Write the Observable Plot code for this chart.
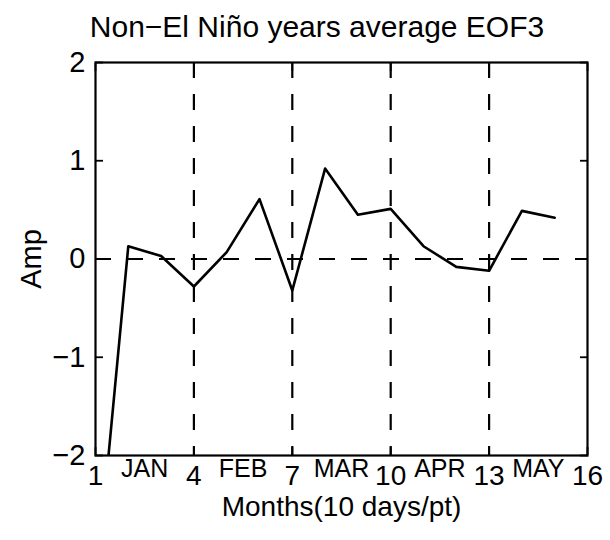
<!DOCTYPE html>
<html>
<head>
<meta charset="utf-8">
<script src="https://cdn.jsdelivr.net/npm/d3@7"></script>
<script src="https://cdn.jsdelivr.net/npm/@observablehq/plot@0.6"></script>
<style>
  html, body { margin: 0; padding: 0; background: #fff; }
  #wrap { width: 610px; font-family: "Liberation Sans", Arial, sans-serif; color: #000; }
  #title { height: 44px; box-sizing: border-box; padding-top: 9px; padding-left: 24px; line-height: 35px; font-size: 30px; text-align: center; white-space: nowrap; }
</style>
</head>
<body>
<div id="wrap">
  <div id="title">Non−El Niño years average EOF3</div>
  <div id="chart"></div>
</div>
<script>
// Data (10-day points, Jan–May)
const pts = [1, 2, 3, 4, 5, 6, 7, 8, 9, 10, 11, 12, 13, 14, 15];
const amp = [-3.4, 0.13, 0.03, -0.28, 0.07, 0.61, -0.32, 0.92, 0.45, 0.51, 0.13, -0.08, -0.12, 0.49, 0.42];
const xTicks = [1, 4, 7, 10, 13, 16];
const yTicks = [-2, -1, 0, 1, 2];
const monthBounds = [4, 7, 10, 13];
const months = ["JAN", "FEB", "MAR", "APR", "MAY"];
const monthPos = [2.5, 5.5, 8.5, 11.5, 14.5];

const data = pts.map((p, i) => ({x: p, y: amp[i]}));
const monthData = months.map((m, i) => ({label: m, x: monthPos[i]}));
const fmt = d3.format("d");

const chart = Plot.plot({
  width: 610,
  height: 496,
  marginTop: 18,
  marginBottom: 85,
  marginLeft: 95,
  marginRight: 23,
  style: {fontFamily: "'Liberation Sans', Arial, sans-serif", fontSize: "29px", color: "#000", background: "#fff"},
  x: {domain: [1, 16]},
  y: {domain: [-2, 2]},
  marks: [
    Plot.ruleY([0], {stroke: "#000", strokeWidth: 2.2, strokeDasharray: "16,16"}),
    Plot.ruleX(monthBounds, {stroke: "#000", strokeWidth: 2.2, strokeDasharray: "16,16"}),
    Plot.line(data, {x: "x", y: "y", stroke: "#000", strokeWidth: 2.6, clip: true}),
    Plot.frame({stroke: "#000", strokeWidth: 2.2}),
    Plot.axisX(xTicks, {anchor: "bottom", tickSize: -8, tickPadding: 18, tickFormat: fmt, strokeWidth: 1.8, label: null, fontSize: 28}),
    Plot.axisX(xTicks, {anchor: "top", tickSize: -8, tickFormat: () => "", strokeWidth: 1.8, label: null}),
    Plot.axisY(yTicks, {anchor: "left", tickSize: -8, tickPadding: 18, tickFormat: fmt, strokeWidth: 1.8, label: null, fontSize: 29}),
    Plot.axisY(yTicks, {anchor: "right", tickSize: -8, tickFormat: () => "", strokeWidth: 1.8, label: null}),
    Plot.text(monthData, {x: "x", text: "label", frameAnchor: "bottom", dy: 13, lineAnchor: "middle", fontSize: 25}),
    Plot.text(["Months(10 days/pt)"], {text: d => d, frameAnchor: "bottom", textAnchor: "middle", dy: 52, lineAnchor: "middle", fontSize: 28}),
    Plot.text(["Amp"], {text: d => d, frameAnchor: "left", textAnchor: "middle", dx: -64, rotate: -90, lineAnchor: "middle", fontSize: 29})
  ]
});
document.getElementById("chart").appendChild(chart);
</script>
</body>
</html>
